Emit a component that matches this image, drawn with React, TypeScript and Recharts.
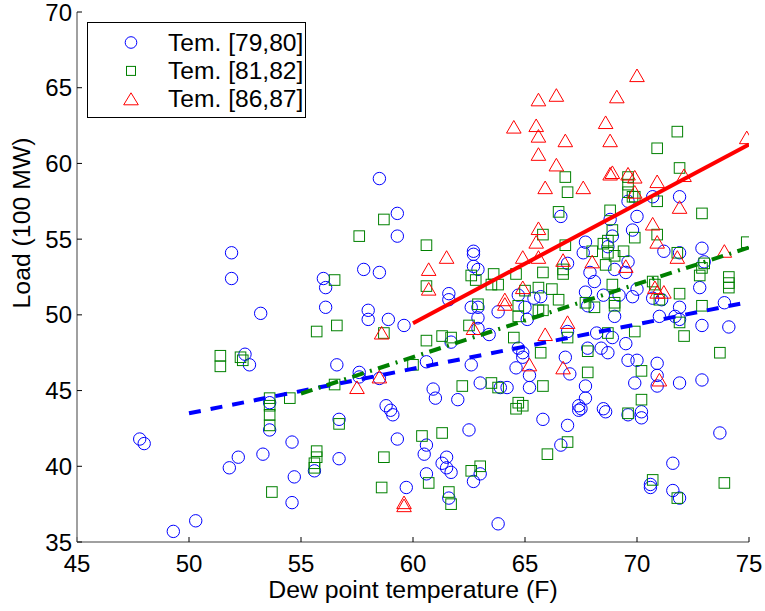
import React from 'react';
import { ScatterChart, Scatter, XAxis, YAxis, Legend } from 'recharts';

const FONT = '"Liberation Sans", Arial, Helvetica, sans-serif';

const xTicks = [45, 50, 55, 60, 65, 70, 75];
const yTicks = [35, 40, 45, 50, 55, 60, 65, 70];
const seriesNames = ['Tem. [79,80]', 'Tem. [81,82]', 'Tem. [86,87]'];
const BLUE = '#0000ff';
const GREEN = '#008000';
const RED = '#ff0000';

// Tem. [79,80] : [dew point, load]
const tem7980: [number, number][] = [
  [47.8, 41.8], [48.0, 41.5], [49.3, 35.7], [50.3, 36.4], [51.9, 54.1], [51.9, 52.4], [53.2, 50.1], [52.5, 47.4], [52.7, 46.7],
  [51.8, 39.9], [52.2, 40.6], [53.3, 40.8], [53.6, 42.4], [54.6, 41.6], [54.7, 39.3], [54.6, 37.6], [53.6, 44.2],
  [58.5, 59.0], [59.3, 56.7], [59.3, 55.2], [57.8, 53.0], [58.5, 52.8], [56.0, 52.4], [56.1, 51.8], [56.1, 50.5], [58.0, 50.3],
  [58.0, 49.7], [58.9, 49.7], [59.6, 49.3], [62.7, 54.2], [62.7, 54.0], [62.7, 53.2], [62.9, 53.0], [61.6, 51.4], [61.6, 51.0],
  [62.6, 50.5], [62.9, 50.5], [62.9, 49.8], [62.9, 49.1], [63.8, 50.2],
  [56.6, 46.7], [57.6, 46.2], [57.6, 45.9], [58.5, 45.8], [60.6, 46.9], [62.6, 46.7], [63.0, 45.5], [63.9, 45.2], [64.2, 45.2],
  [60.9, 45.1], [61.0, 44.5], [62.0, 44.4], [58.8, 44.0], [59.0, 43.7], [59.1, 43.4], [56.7, 43.1], [62.5, 42.4], [59.3, 41.8],
  [60.6, 41.4], [60.5, 40.8], [61.5, 40.6], [61.3, 40.2], [61.5, 39.9], [61.7, 39.6], [60.6, 39.5], [56.7, 40.5], [55.6, 39.7],
  [63.0, 39.5], [62.7, 39.0], [59.7, 38.6], [61.6, 37.9], [63.8, 36.2], [63.4, 48.7], [61.7, 48.2],
  [66.6, 56.5], [70.7, 57.8], [71.9, 57.8], [70.0, 56.5], [68.8, 56.3], [69.6, 57.5],
  [67.7, 54.8], [67.6, 54.1], [67.9, 52.8], [68.1, 52.2], [66.9, 53.4], [68.9, 55.2], [68.7, 54.5], [69.0, 53.0], [69.6, 53.5],
  [67.7, 51.5], [67.8, 50.6], [68.5, 51.3], [69.2, 51.3], [69.0, 49.9], [65.7, 51.2], [65.4, 51.1], [64.7, 51.3], [65.0, 50.5],
  [65.1, 49.7], [66.9, 48.9], [68.2, 48.8], [68.9, 48.5], [68.4, 47.8], [67.8, 47.8], [68.7, 47.5], [66.8, 47.2], [64.7, 47.8],
  [64.9, 47.5], [64.9, 47.2], [64.6, 46.5], [65.2, 46.0], [67.0, 46.1],
  [69.8, 55.6], [71.2, 54.2], [71.9, 54.1], [72.9, 54.4], [73.0, 53.5], [69.5, 52.8], [70.0, 51.7], [69.8, 51.2], [70.7, 51.1],
  [71.1, 51.0], [72.8, 51.8], [73.9, 50.8], [71.9, 50.5], [71.7, 49.9], [71.9, 49.7], [72.9, 49.3], [74.1, 49.2], [71.0, 49.9],
  [69.5, 48.1], [69.6, 47.0], [70.0, 47.0], [70.9, 46.8], [70.9, 46.0],
  [65.2, 45.2], [67.7, 45.3], [69.9, 45.5], [71.9, 45.5], [72.9, 45.7], [67.7, 44.5], [67.4, 44.0], [67.5, 43.8], [67.4, 43.7],
  [68.5, 43.8], [68.6, 43.6], [69.6, 43.4], [70.2, 43.6], [70.2, 43.2], [65.8, 43.1], [66.9, 42.7], [66.6, 41.4], [73.7, 42.2],
  [71.6, 40.2], [70.6, 38.8], [70.6, 38.6], [71.6, 38.4], [71.9, 37.9], [70.9, 45.3],
];

// Tem. [81,82]
const tem8182: [number, number][] = [
  [51.4, 47.3], [51.4, 46.6], [52.3, 47.2], [52.4, 47.0], [53.6, 44.5], [53.6, 44.0], [53.6, 43.4], [53.6, 42.7], [54.5, 44.5], [53.7, 38.3],
  [58.7, 56.3], [57.6, 55.2], [60.6, 54.6], [56.5, 52.3], [60.6, 51.9], [62.6, 52.6], [62.8, 52.3], [63.6, 52.7], [63.5, 52.0],
  [63.8, 52.0], [56.6, 49.3], [55.7, 48.9], [58.7, 48.8], [62.9, 50.7], [62.5, 49.3], [61.3, 48.6], [61.7, 48.5], [60.6, 48.3],
  [60.0, 46.7], [56.5, 45.4], [62.2, 45.3], [63.5, 45.5], [63.8, 45.2], [56.7, 42.8], [55.7, 41.0], [55.7, 40.6], [55.6, 40.2],
  [55.6, 39.9], [60.4, 42.0], [61.3, 42.2], [58.7, 40.6], [58.6, 38.6], [60.7, 38.9], [61.6, 38.3], [61.7, 37.5], [62.6, 39.7], [63.0, 40.0],
  [71.8, 62.1], [70.9, 61.0], [71.9, 59.7], [66.8, 59.1], [66.9, 58.1], [66.5, 56.8], [69.6, 59.1], [69.6, 58.6], [69.6, 58.1],
  [69.8, 57.8], [69.9, 57.8], [70.9, 57.5], [72.9, 56.7], [68.8, 56.9], [68.9, 55.6],
  [65.8, 55.3], [66.8, 54.6], [68.0, 54.2], [68.5, 54.7], [68.7, 54.9], [68.7, 54.1], [69.0, 53.9], [68.6, 53.3], [65.8, 52.8],
  [64.6, 52.7], [66.7, 53.0], [66.7, 52.7], [65.6, 51.8], [66.2, 51.7], [65.0, 51.6], [66.5, 51.0], [67.7, 50.8], [68.1, 50.5],
  [68.9, 52.0], [69.0, 50.8], [69.0, 50.6], [64.7, 50.6], [64.7, 49.9], [65.6, 50.3], [65.8, 50.3], [64.5, 48.5], [68.7, 48.8],
  [66.9, 48.5], [65.7, 47.5], [67.8, 47.6], [67.8, 46.2], [65.8, 45.3],
  [69.9, 55.1], [70.9, 55.3], [69.4, 54.2], [71.8, 54.1], [73.0, 53.4], [72.9, 53.1], [72.8, 52.6], [74.1, 52.5], [74.1, 52.1],
  [74.1, 51.8], [74.9, 54.8], [70.7, 52.2], [70.8, 52.0], [71.0, 51.0], [71.9, 51.4], [72.9, 50.6], [69.9, 48.9], [72.1, 48.6],
  [73.7, 47.5], [70.2, 46.3], [71.9, 49.5],
  [64.7, 44.2], [64.9, 44.0], [64.6, 43.8], [70.2, 44.4], [69.6, 43.5], [66.9, 41.6], [66.0, 40.8], [70.7, 39.1], [73.9, 38.9], [71.8, 37.9],
];

// Tem. [86,87]
const tem8687: [number, number][] = [
  [61.5, 53.8], [60.7, 53.0], [60.7, 51.7], [64.1, 51.0], [64.1, 50.7], [62.7, 49.1], [58.6, 48.8], [58.5, 45.9], [57.5, 45.2],
  [59.6, 37.6], [59.6, 37.4],
  [70.0, 65.8], [69.1, 64.4], [66.4, 64.5], [65.6, 64.2], [64.5, 62.4], [65.5, 62.5], [65.6, 61.8], [66.8, 61.5], [68.6, 62.7],
  [68.8, 61.5], [65.6, 60.6], [66.4, 59.9], [68.8, 59.3], [68.9, 59.4], [69.6, 59.3], [69.9, 59.1], [70.9, 58.8], [72.1, 59.2],
  [74.9, 61.7], [67.6, 58.4], [65.9, 58.4], [69.9, 58.1], [71.9, 57.1], [70.7, 56.0], [65.6, 55.7],
  [65.5, 54.8], [64.9, 53.8], [65.6, 53.8], [66.7, 53.6], [68.0, 53.5], [69.5, 53.2], [64.9, 51.8], [66.9, 49.5], [65.9, 48.7],
  [65.2, 46.7], [66.7, 46.5],
  [70.9, 54.8], [71.8, 53.8], [73.9, 54.2], [70.8, 51.8], [70.9, 51.5], [71.2, 51.5], [71.0, 45.7],
];

// Fitted lines (end points)
const fit7980: [number, number][] = [[50, 43.5], [75, 50.85]];
const fit8182: [number, number][] = [[55, 44.8], [75, 54.45]];
const fit8687: [number, number][] = [[60, 49.45], [75, 61.25]];

const toPts = (a: [number, number][]) => a.map(([x, y]) => ({ x, y }));

const CircleMark = (p: any) =>
  p.cx == null ? <g /> : <circle cx={p.cx} cy={p.cy} r={6.2} fill="none" stroke={BLUE} strokeWidth={1} />;
const SquareMark = (p: any) =>
  p.cx == null ? <g /> : <rect x={p.cx - 5.3} y={p.cy - 5.3} width={10.6} height={10.6} fill="none" stroke={GREEN} strokeWidth={1} />;
const TriMark = (p: any) =>
  p.cx == null ? (
    <g />
  ) : (
    <polygon
      points={`${p.cx},${p.cy - 6.6} ${p.cx - 7.3},${p.cy + 6} ${p.cx + 7.3},${p.cy + 6}`}
      fill="none"
      stroke={RED}
      strokeWidth={1}
    />
  );
const NoMark = () => <g />;

const XTick = (p: any) => (
  <text x={p.x} y={p.y} textAnchor="middle" fontFamily={FONT} fontSize={24} fill="#000">
    {p.payload.value}
  </text>
);
const YTick = (p: any) => (
  <text x={p.x} y={p.y + 8.5} textAnchor="end" fontFamily={FONT} fontSize={24} fill="#000">
    {p.payload.value}
  </text>
);

const LegendBox = () => {
  const rows = [0, 1, 2];
  return (
    <svg width={220} height={97} style={{ display: 'block' }}>
      <rect x={0.5} y={0.5} width={218} height={95} fill="#fff" stroke="#000" strokeWidth={1} />
      {rows.map((i) => {
        const cy = 20.5 + i * 28.4;
        const cx = 44;
        let mark;
        if (i === 0) mark = <circle cx={cx} cy={cy} r={5.8} fill="none" stroke={BLUE} strokeWidth={1} />;
        else if (i === 1) mark = <rect x={cx - 4.5} y={cy - 4.5} width={9} height={9} fill="none" stroke={GREEN} strokeWidth={1} />;
        else
          mark = (
            <polygon
              points={`${cx},${cy - 6.5} ${cx - 7.3},${cy + 5.5} ${cx + 7.3},${cy + 5.5}`}
              fill="none"
              stroke={RED}
              strokeWidth={1}
            />
          );
        return (
          <g key={i}>
            {mark}
            <text x={81} y={cy + 8} fontFamily={FONT} fontSize={24.6} fill="#000">
              {seriesNames[i]}
            </text>
          </g>
        );
      })}
    </svg>
  );
};

export default function App() {
  return (
    <div style={{ position: 'fixed', left: 0, top: 0, width: 765, height: 611, background: '#fff' }}>
      <ScatterChart width={765} height={611} margin={{ top: 12, right: 16, bottom: 0, left: 0 }}>
        <XAxis
          type="number"
          dataKey="x"
          domain={[45, 75]}
          ticks={xTicks}
          allowDataOverflow
          height={69}
          tickSize={-5}
          tickMargin={35}
          tick={XTick}
          axisLine={{ stroke: '#808080', strokeWidth: 1.5 }}
          tickLine={{ stroke: '#000', strokeWidth: 1 }}
          label={(props: any) => {
            const vb = props.viewBox || { x: 77, y: 542, width: 672 };
            return (
              <text x={vb.x + vb.width / 2} y={vb.y + 56} textAnchor="middle" fontFamily={FONT} fontSize={24.8} fill="#000">
                Dew point temperature (F)
              </text>
            );
          }}
        />
        <YAxis
          type="number"
          dataKey="y"
          domain={[35, 70]}
          ticks={yTicks}
          allowDataOverflow
          width={77}
          tickSize={-5}
          tickMargin={10}
          tick={YTick}
          axisLine={{ stroke: '#808080', strokeWidth: 1.5 }}
          tickLine={{ stroke: '#000', strokeWidth: 1 }}
          label={() => (
            <text
              x={30}
              y={223}
              transform="rotate(-90 30 223)"
              textAnchor="middle"
              fontFamily={FONT}
              fontSize={24.8}
              fill="#000"
            >
              Load (100 MW)
            </text>
          )}
        />
        <Legend
          layout="horizontal"
          verticalAlign="middle"
          align="center"
          wrapperStyle={{ left: 87, top: 22, width: 220, height: 97 }}
          content={() => <LegendBox />}
        />
        <Scatter name={seriesNames[0]} data={toPts(tem7980)} fill={BLUE} shape={CircleMark} isAnimationActive={false} />
        <Scatter name={seriesNames[1]} data={toPts(tem8182)} fill={GREEN} shape={SquareMark} isAnimationActive={false} />
        <Scatter name={seriesNames[2]} data={toPts(tem8687)} fill={RED} shape={TriMark} isAnimationActive={false} />
        <Scatter
          data={toPts(fit7980)}
          fill={BLUE}
          shape={NoMark}
          legendType="none"
          line={{ stroke: BLUE, strokeWidth: 4, strokeDasharray: '12 10' }}
          isAnimationActive={false}
        />
        <Scatter
          data={toPts(fit8182)}
          fill={GREEN}
          shape={NoMark}
          legendType="none"
          line={{ stroke: GREEN, strokeWidth: 4, strokeDasharray: '12 6.5 2 6.5' }}
          isAnimationActive={false}
        />
        <Scatter
          data={toPts(fit8687)}
          fill={RED}
          shape={NoMark}
          legendType="none"
          line={{ stroke: RED, strokeWidth: 4 }}
          isAnimationActive={false}
        />
      </ScatterChart>
    </div>
  );
}
